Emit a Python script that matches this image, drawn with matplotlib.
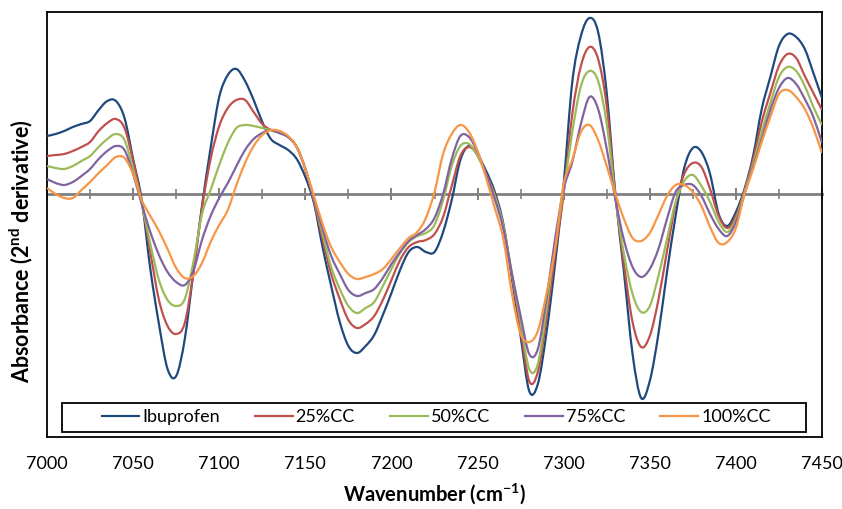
import numpy as np
import matplotlib
matplotlib.use("Agg")
from matplotlib import pyplot as plt
from matplotlib.ticker import MultipleLocator
from matplotlib.patches import Rectangle, PathPatch
from matplotlib.path import Path
from matplotlib.lines import Line2D

plt.rcParams['font.family'] = ['Lato', 'DejaVu Sans']
plt.rcParams['mathtext.fontset'] = 'custom'
plt.rcParams['mathtext.rm'] = 'Lato'
plt.rcParams['mathtext.bf'] = 'Lato:bold'

# wavenumber grid (cm-1), sampled every 5
wavenumber = np.arange(7000, 7451, 5)

# 2nd derivative absorbance, arbitrary units
ibuprofen = [58, 60, 63, 67, 70, 73, 84, 93, 93, 76,
             35, -6, -75, -130, -175, -182, -145, -78, -12, 46,
             97, 119, 125, 113, 94, 72, 55, 49, 44, 35,
             17, -9, -53, -92, -128, -152, -159, -152, -141, -121,
             -99, -76, -58, -53, -58, -58, -38, -6, 34, 48,
             39, 23, 2, -30, -85, -142, -197, -190, -139, -70,
             10, 112, 158, 176, 162, 101, 0, -78, -160, -204,
             -187, -140, -78, -22, 26, 46, 42, 20, -20, -32,
             -18, 5, 38, 85, 117, 148, 160, 157, 145, 121,
             96]
cc25 = [38, 39, 40, 43, 47, 52, 63, 71, 75, 66,
        33, -8, -58, -106, -132, -140, -129, -79, -14, 35,
        68, 86, 94, 94, 82, 70, 64, 61, 57, 47,
        25, -7, -45, -80, -105, -126, -134, -130, -122, -106,
        -86, -66, -53, -48, -46, -40, -23, 8, 38, 47,
        39, 20, -1, -33, -82, -135, -187, -178, -125, -60,
        0, 80, 128, 147, 135, 88, 0, -70, -128, -153,
        -142, -106, -57, -10, 20, 31, 27, 5, -22, -34,
        -22, 3, 34, 72, 101, 128, 140, 136, 118, 101,
        84]
cc50 = [28, 26, 25, 28, 33, 38, 47, 55, 60, 54,
        25, -9, -50, -86, -106, -112, -105, -68, -20, 4,
        29, 51, 66, 69, 68, 66, 64, 61, 57, 47,
        25, -5, -40, -73, -95, -112, -119, -114, -108, -92,
        -75, -59, -48, -42, -39, -31, -6, 28, 48, 50,
        38, 19, -2, -32, -80, -128, -175, -170, -115, -50,
        3, 62, 108, 123, 113, 70, -3, -60, -100, -118,
        -112, -82, -45, -8, 13, 19, 8, -8, -28, -38,
        -25, 2, 30, 62, 91, 117, 127, 123, 108, 87,
        69]
cc75 = [15, 11, 9, 12, 18, 25, 35, 43, 48, 44,
        20, -10, -38, -61, -78, -88, -91, -77, -46, -22,
        -4, 11, 28, 44, 55, 61, 64, 61, 57, 47,
        25, -5, -35, -62, -80, -96, -102, -99, -95, -84,
        -70, -58, -47, -41, -35, -24, 0, 35, 58, 57,
        42, 20, -5, -35, -80, -122, -160, -155, -105, -45,
        5, 32, 70, 97, 85, 45, -5, -46, -73, -83,
        -75, -55, -25, 2, 9, 9, -2, -20, -35, -42,
        -28, 0, 27, 55, 84, 106, 116, 110, 95, 77,
        51]
cc100 = [6, 0, -4, -4, 4, 12, 21, 29, 37, 36,
         20, -6, -22, -37, -55, -74, -84, -82, -69, -48,
         -31, -16, 9, 31, 48, 59, 64, 63, 58, 47,
         25, -2, -30, -53, -68, -80, -85, -83, -80, -75,
         -65, -54, -44, -38, -24, 2, 40, 60, 69, 62,
         43, 16, -14, -45, -100, -140, -148, -137, -100, -55,
         10, 34, 62, 69, 54, 28, 0, -25, -44, -47,
         -39, -21, -2, 9, 9, 2, -12, -33, -49, -48,
         -34, 0, 25, 52, 77, 100, 104, 97, 85, 66,
         41]

labels = ['Ibuprofen', '25%CC', '50%CC', '75%CC', '100%CC']
series = [ibuprofen, cc25, cc50, cc75, cc100]
colors = ['#1F497D', '#C0504D', '#9BBB59', '#8064A2', '#F79646']


def smooth_path(x, y):
    # Excel style "smoothed line": bezier segments through every data point
    p = np.column_stack([x, y]).astype(float)
    ext = np.vstack([p[0], p, p[-1]])
    verts = [p[0]]
    codes = [Path.MOVETO]
    for i in range(len(p) - 1):
        a, b, c, d = ext[i], ext[i + 1], ext[i + 2], ext[i + 3]
        verts += [b + (c - a) / 6, c - (d - b) / 6, c]
        codes += [Path.CURVE4] * 3
    return Path(verts, codes)


fig = plt.figure(figsize=(8.42, 5.09), dpi=100)
ax = fig.add_axes([47 / 842, 1 - 437 / 509, 775 / 842, 425 / 509])

handles = []
for vals, lab, col in zip(series, labels, colors):
    ax.add_patch(PathPatch(smooth_path(wavenumber, vals), facecolor='none',
                           edgecolor=col, lw=1.6, zorder=3))
    handles.append(Line2D([], [], color=col, lw=1.6, label=lab))

ymin, ymax = -243, 182
ax.set_xlim(7000, 7450)
ax.set_ylim(ymin, ymax)
ax.set_yticks([])
ax.xaxis.set_major_locator(MultipleLocator(50))
ax.tick_params(axis='x', length=0, pad=14, labelsize=13)
for s in ax.spines.values():
    s.set_color('black')
    s.set_linewidth(1.3)

# zero line with tick marks (Excel style axis crossing at 0)
zero_pos = (0 - ymin) / (ymax - ymin)
sec = ax.secondary_xaxis(zero_pos)
sec.xaxis.set_major_locator(MultipleLocator(50))
sec.xaxis.set_minor_locator(MultipleLocator(25))
sec.tick_params(which='major', direction='inout', length=9, width=1.4, color='#808080',
                labeltop=False, labelbottom=False)
sec.tick_params(which='minor', direction='inout', length=6.5, width=1.2, color='#808080')
for s in sec.spines.values():
    s.set_color('#808080')
    s.set_linewidth(2)

ax.set_xlabel(r'Wavenumber (cm$^{\mathbf{-1}}$)', fontsize=14.5, fontweight='bold')
ax.xaxis.set_label_coords(0.5, -0.104)
ax.set_ylabel(r'Absorbance (2$^{\mathbf{nd}}$ derivative)', fontsize=15.5, fontweight='bold')
ax.yaxis.set_label_coords(-0.016, 0.4376)

leg = ax.legend(handles=handles, ncol=5, loc='center', bbox_to_anchor=(0.502, 0.046),
                frameon=False, fontsize=13, handlelength=2.1, handletextpad=0.15,
                columnspacing=1.95)
ax.add_patch(Rectangle((0.0194, 0.0118), 0.9594, 0.068, transform=ax.transAxes,
                       fill=False, edgecolor='black', lw=1.3, zorder=4))

fig.savefig('out.png', dpi=100)
